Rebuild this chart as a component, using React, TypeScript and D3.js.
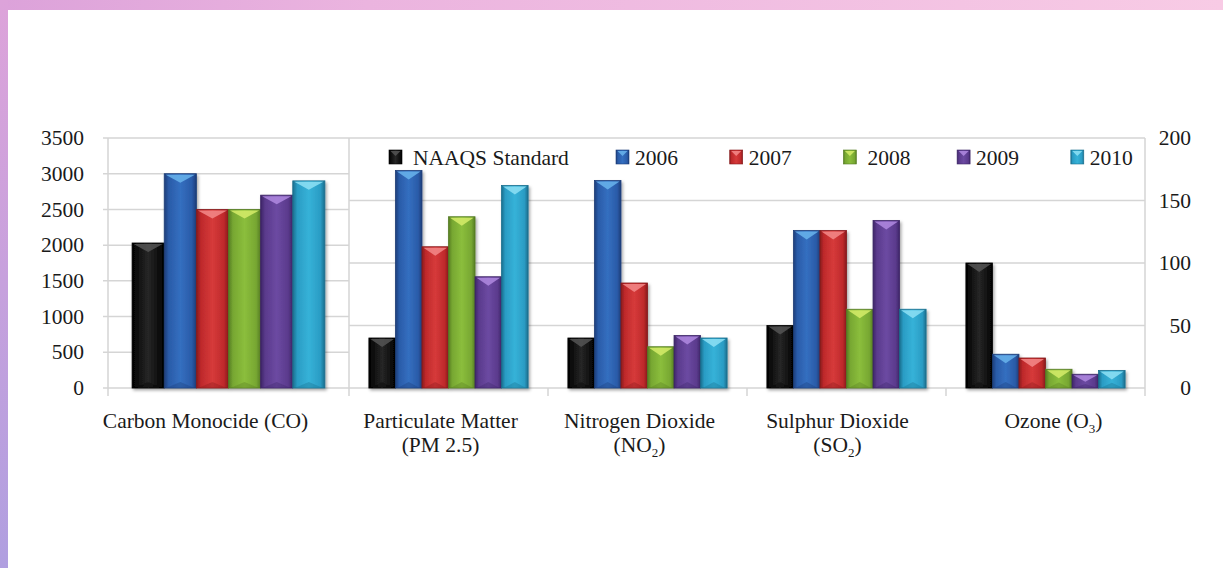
import React, { useRef, useEffect } from 'react';
import * as d3 from 'd3';

// pollutant groups (first one is on the left axis, the rest on the right axis)
const categories = ['CO', 'PM2.5', 'NO2', 'SO2', 'O3'];
const categoryLabels = [
  ['Carbon Monocide (CO)'],
  ['Particulate Matter', '(PM 2.5)'],
  ['Nitrogen Dioxide', '(NO_2)'],
  ['Sulphur Dioxide', '(SO_2)'],
  ['Ozone (O_3)'],
];
const series = ['NAAQS Standard', '2006', '2007', '2008', '2009', '2010'];

// values per series, one per category
const naaqs = [2030, 40, 40, 50, 100];
const y2006 = [3000, 174, 166, 126, 27];
const y2007 = [2500, 113, 84, 126, 24];
const y2008 = [2500, 137, 33, 63, 15];
const y2009 = [2700, 89, 42, 134, 11];
const y2010 = [2900, 162, 40, 63, 14];

const leftTicks = [0, 500, 1000, 1500, 2000, 2500, 3000, 3500];
const rightTicks = [0, 50, 100, 150, 200];

// edge, base, light, highlight
const palette = [
  ['#000000', '#0c0c0c', '#262626', '#555555'],
  ['#1c3d78', '#2a5ba8', '#346fc0', '#6ab4ec'],
  ['#861a1c', '#be292b', '#d63a3a', '#f38a8a'],
  ['#557c22', '#77a732', '#8bbe3c', '#d6ec6a'],
  ['#3d2566', '#5a3a8c', '#6c4aa2', '#b08ae0'],
  ['#1a6e8d', '#2a9cc4', '#36b2d8', '#8ee0f5'],
];

const FONT = '"Liberation Serif", "Times New Roman", serif';
const labelShift = [-23, -8, -8, -9, 8];

const App = () => {
  const ref = useRef(null);

  useEffect(() => {
    if (!ref.current) return;
    const svg = d3.select(ref.current);
    svg.selectAll('*').remove();

    const width = 1223;
    const height = 568;
    const values = [naaqs, y2006, y2007, y2008, y2009, y2010];

    const defs = svg.append('defs');
    const bgTop = defs.append('linearGradient').attr('id', 'bgTop')
      .attr('x1', 0).attr('y1', 0).attr('x2', 1).attr('y2', 0);
    bgTop.append('stop').attr('offset', '0%').attr('stop-color', '#dca2da');
    bgTop.append('stop').attr('offset', '30%').attr('stop-color', '#ebb4df');
    bgTop.append('stop').attr('offset', '100%').attr('stop-color', '#f8cbe5');
    const bgLeft = defs.append('linearGradient').attr('id', 'bgLeft')
      .attr('x1', 0).attr('y1', 0).attr('x2', 0).attr('y2', 1);
    bgLeft.append('stop').attr('offset', '0%').attr('stop-color', '#dda3da');
    bgLeft.append('stop').attr('offset', '100%').attr('stop-color', '#b09fe0');

    palette.forEach((p, i) => {
      const g = defs.append('linearGradient').attr('id', 'bar' + i)
        .attr('x1', 0).attr('y1', 0).attr('x2', 1).attr('y2', 0);
      g.append('stop').attr('offset', '0%').attr('stop-color', p[0]);
      g.append('stop').attr('offset', '14%').attr('stop-color', p[1]);
      g.append('stop').attr('offset', '50%').attr('stop-color', p[2]);
      g.append('stop').attr('offset', '86%').attr('stop-color', p[1]);
      g.append('stop').attr('offset', '100%').attr('stop-color', p[0]);
    });

    const shadow = defs.append('filter').attr('id', 'shadow')
      .attr('x', '-20%').attr('y', '-20%').attr('width', '140%').attr('height', '140%');
    shadow.append('feDropShadow').attr('dx', 1.5).attr('dy', 2).attr('stdDeviation', 1.5)
      .attr('flood-color', '#000').attr('flood-opacity', 0.35);

    // slide background
    svg.append('rect').attr('width', width).attr('height', height).attr('fill', 'url(#bgTop)');
    svg.append('rect').attr('width', 8).attr('height', height).attr('fill', 'url(#bgLeft)');
    svg.append('rect').attr('x', 8).attr('y', 10).attr('width', width - 8).attr('height', height - 10).attr('fill', '#fff');

    // scales
    const xLeft = d3.scaleBand().domain([categories[0]]).range([108, 349]).paddingInner(0.2).paddingOuter(0.1);
    const xRight = d3.scaleBand().domain(categories.slice(1)).range([349, 1145]).paddingInner(0.2).paddingOuter(0.1);
    const yLeft = d3.scaleLinear().domain([0, 3500]).range([388, 138]);
    const yRight = d3.scaleLinear().domain([0, 200]).range([388, 138]);

    const gridColor = '#d5d5d5';
    const grid = svg.append('g').attr('stroke', gridColor).attr('stroke-width', 1.5);

    // left gridlines with ticks
    grid.selectAll('.gl').data(leftTicks).enter().append('line')
      .attr('x1', 103).attr('x2', 349)
      .attr('y1', d => yLeft(d)).attr('y2', d => yLeft(d));
    // right gridlines
    grid.selectAll('.gr').data(rightTicks).enter().append('line')
      .attr('x1', 349).attr('x2', 1145)
      .attr('y1', d => yRight(d)).attr('y2', d => yRight(d));

    // vertical borders + category ticks
    const bounds = [108, 349].concat(categories.slice(1).map(c => xRight(c) + xRight.bandwidth() + xRight.step() * 0.1));
    grid.selectAll('.vb').data(bounds).enter().append('line')
      .attr('x1', d => d).attr('x2', d => d)
      .attr('y1', (d, i) => (i === 0 || i === 1 || i === bounds.length - 1) ? 138 : 388)
      .attr('y2', 396);

    // axis labels
    svg.append('g').selectAll('text').data(leftTicks).enter().append('text')
      .attr('x', 84).attr('y', d => yLeft(d)).attr('dy', '0.33em')
      .attr('text-anchor', 'end').attr('font-family', FONT).attr('font-size', 21.5).attr('fill', '#1a1a1a')
      .text(d => d);
    svg.append('g').selectAll('text').data(rightTicks).enter().append('text')
      .attr('x', 1191).attr('y', d => yRight(d)).attr('dy', '0.33em')
      .attr('text-anchor', 'end').attr('font-family', FONT).attr('font-size', 21.5).attr('fill', '#1a1a1a')
      .text(d => d);

    // bars
    categories.forEach((cat, ci) => {
      const xs = ci === 0 ? xLeft : xRight;
      const ys = ci === 0 ? yLeft : yRight;
      const xInner = d3.scaleBand().domain(series).range([0, xs.bandwidth()]);
      const g = svg.append('g').attr('filter', 'url(#shadow)');
      series.forEach((s, si) => {
        const v = values[si][ci];
        const x = xs(cat) + xInner(s);
        const w = xInner.bandwidth();
        const y = ys(v);
        const h = ys(0) - y;
        const p = palette[si];
        g.append('rect').attr('x', x).attr('y', y).attr('width', w).attr('height', h)
          .attr('fill', `url(#bar${si})`).attr('stroke', p[0]).attr('stroke-width', 0.8);
        const th = Math.min(9, h * 0.55);
        g.append('polygon')
          .attr('points', `${x + 1.5},${y + 1} ${x + w - 1.5},${y + 1} ${x + w / 2},${y + th}`)
          .attr('fill', p[3]).attr('opacity', 0.85);
        g.append('polygon')
          .attr('points', `${x + 3},${y + h - 0.5} ${x + w - 3},${y + h - 0.5} ${x + w / 2},${y + h - Math.min(6, h * 0.3)}`)
          .attr('fill', p[0]).attr('opacity', 0.35);
      });
    });

    // category labels
    categoryLabels.forEach((lines, ci) => {
      const cat = categories[ci];
      const xs = ci === 0 ? xLeft : xRight;
      const cx = xs(cat) + xs.bandwidth() / 2 + labelShift[ci];
      lines.forEach((line, li) => {
        const t = svg.append('text')
          .attr('x', cx).attr('y', 428 + li * 24)
          .attr('text-anchor', 'middle').attr('font-family', FONT).attr('font-size', 21.5).attr('fill', '#1a1a1a');
        const parts = line.split(/_(\d)/);
        parts.forEach((part, pi) => {
          if (pi % 2 === 1) {
            t.append('tspan').attr('font-size', 13).attr('dy', 5).text(part);
          } else if (part) {
            const ts = t.append('tspan').text(part);
            if (pi > 0) ts.attr('dy', -5);
          }
        });
      });
    });

    // legend
    const legend = svg.append('g');
    series.forEach((s, i) => {
      const lx = i === 0 ? 389 : 616 + (i - 1) * 113.7;
      const p = palette[i];
      legend.append('rect').attr('x', lx).attr('y', 150).attr('width', 13).attr('height', 14)
        .attr('fill', `url(#bar${i})`).attr('stroke', p[0]).attr('stroke-width', 0.6);
      legend.append('polygon')
        .attr('points', `${lx + 1.5},${151} ${lx + 11.5},${151} ${lx + 6.5},${156}`)
        .attr('fill', p[3]).attr('opacity', 0.85);
      legend.append('text').attr('x', lx + (i === 0 || i === 3 ? 24 : 19)).attr('y', 164.5)
        .attr('font-family', FONT).attr('font-size', 21.5).attr('fill', '#1a1a1a').text(s);
    });
  }, []);

  return (
    <svg ref={ref} width={1223} height={568}
      style={{ position: 'absolute', left: 0, top: 0, display: 'block' }} />
  );
};

export default App;
